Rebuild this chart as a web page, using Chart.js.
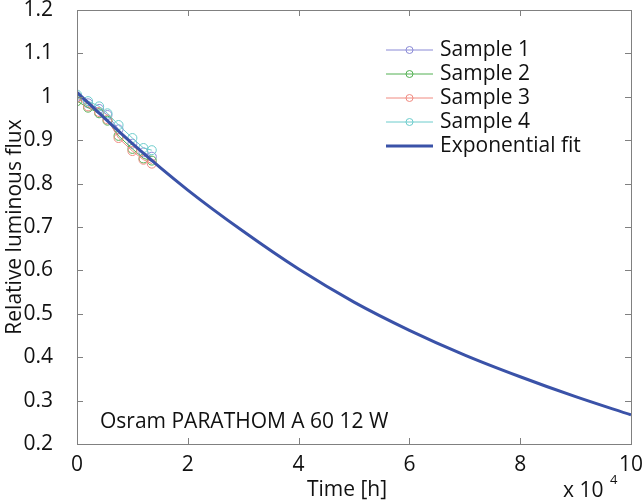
<!DOCTYPE html>
<html lang="en">
<head>
  <meta charset="UTF-8">
  <title>Relative luminous flux</title>
  <script src="https://cdn.jsdelivr.net/npm/chart.js"></script>
  <style>
    body { margin: 0; background: #fff; }
    #wrap { width: 642px; height: 504px; }
  </style>
</head>
<body>
<div id="wrap"><canvas id="flux" width="642" height="504"></canvas></div>
<script>
// time in units of 10^4 h
const sampleTimes = [0, 0.2, 0.4, 0.55, 0.75, 1.0, 1.2, 1.35];
const sample1 = [1.0, 0.985, 0.972, 0.958, 0.925, 0.892, 0.872, 0.862];
const sample2 = [0.99, 0.975, 0.962, 0.945, 0.91, 0.88, 0.858, 0.853];
const sample3 = [0.998, 0.978, 0.965, 0.948, 0.905, 0.875, 0.855, 0.846];
const sample4 = [1.005, 0.99, 0.978, 0.962, 0.935, 0.905, 0.882, 0.877];

const fitTimes = [0, 1, 2, 3, 4, 5, 6, 7, 8, 9, 10];
const fitValues = [1.01, 0.892, 0.785, 0.69, 0.603, 0.527, 0.462, 0.405, 0.355, 0.309, 0.267];

const xTicks = [0, 2, 4, 6, 8, 10];
const yTicks = [0.2, 0.3, 0.4, 0.5, 0.6, 0.7, 0.8, 0.9, 1.0, 1.1, 1.2];

const sampleNames = ['Sample 1', 'Sample 2', 'Sample 3', 'Sample 4'];
const sampleColors = ['#8a8ad6', '#52b052', '#f08a80', '#6ccccc'];
const fitColor = '#3a52a8';
const FONT = "'Open Sans', sans-serif";

const pts = (xs, ys) => xs.map((x, i) => ({ x, y: ys[i] }));

const sampleSet = (i, values) => ({
  label: sampleNames[i],
  data: pts(sampleTimes, values),
  showLine: true,
  borderColor: sampleColors[i],
  backgroundColor: 'rgba(0,0,0,0)',
  borderWidth: 1,
  pointRadius: 4.5,
  pointBorderWidth: 1,
  pointBorderColor: sampleColors[i],
  order: 4 - i
});

const frame = {
  id: 'frame',
  afterDraw(chart) {
    const { ctx, chartArea: a, scales: { x, y } } = chart;
    ctx.save();
    ctx.strokeStyle = '#808080';
    ctx.lineWidth = 1;
    ctx.strokeRect(a.left + 0.5, a.top + 0.5, a.right - a.left, a.bottom - a.top);
    ctx.beginPath();
    xTicks.forEach(v => {
      const px = Math.round(x.getPixelForValue(v)) + 0.5;
      ctx.moveTo(px, a.bottom); ctx.lineTo(px, a.bottom - 6);
      ctx.moveTo(px, a.top); ctx.lineTo(px, a.top + 6);
    });
    yTicks.forEach(v => {
      const py = Math.round(y.getPixelForValue(v)) + 0.5;
      ctx.moveTo(a.left, py); ctx.lineTo(a.left + 6, py);
      ctx.moveTo(a.right, py); ctx.lineTo(a.right - 6, py);
    });
    ctx.stroke();

    // texts
    ctx.fillStyle = '#111';
    ctx.textBaseline = 'middle';
    ctx.font = '21px ' + FONT;
    ctx.textAlign = 'left';
    ctx.fillText('Osram PARATHOM A 60 12 W', 100, 422);

    ctx.textAlign = 'center';
    ctx.fillText('Time [h]', 347, 490);
    ctx.textAlign = 'left';
    ctx.fillText('x 10', 563, 491);
    ctx.font = '13px ' + FONT;
    ctx.fillText('4', 610, 480);

    ctx.save();
    ctx.font = '21px ' + FONT;
    ctx.translate(15, (a.top + a.bottom) / 2);
    ctx.rotate(-Math.PI / 2);
    ctx.textAlign = 'center';
    ctx.fillText('Relative luminous flux', 0, 0);
    ctx.restore();

    // legend
    const rows = [50, 74, 98, 122, 146];
    ctx.font = '21px ' + FONT;
    ctx.textAlign = 'left';
    sampleNames.forEach((name, i) => {
      ctx.strokeStyle = sampleColors[i];
      ctx.lineWidth = 1;
      ctx.beginPath();
      ctx.moveTo(386, rows[i]); ctx.lineTo(433, rows[i]);
      ctx.stroke();
      ctx.beginPath();
      ctx.arc(409.5, rows[i], 3.5, 0, Math.PI * 2);
      ctx.stroke();
      ctx.fillStyle = '#111';
      ctx.fillText(name, 440, rows[i]);
    });
    ctx.strokeStyle = fitColor;
    ctx.lineWidth = 3;
    ctx.beginPath();
    ctx.moveTo(386, rows[4]); ctx.lineTo(433, rows[4]);
    ctx.stroke();
    ctx.fillText('Exponential fit', 440, rows[4]);
    ctx.restore();
  }
};

new Chart(document.getElementById('flux'), {
  type: 'scatter',
  data: {
    datasets: [
      {
        label: 'Exponential fit',
        data: pts(fitTimes, fitValues),
        showLine: true,
        borderColor: fitColor,
        borderWidth: 3,
        pointRadius: 0,
        cubicInterpolationMode: 'monotone',
        order: 0
      },
      sampleSet(0, sample1),
      sampleSet(1, sample2),
      sampleSet(2, sample3),
      sampleSet(3, sample4)
    ]
  },
  options: {
    responsive: false,
    animation: false,
    layout: { padding: { top: 10, right: 11, left: 0, bottom: 0 } },
    plugins: { legend: { display: false }, tooltip: { enabled: false } },
    scales: {
      x: {
        type: 'linear', min: 0, max: 10,
        afterFit: s => { s.height = 60; s.paddingLeft = 0; s.paddingRight = 0; },
        afterBuildTicks: s => { s.ticks = xTicks.map(v => ({ value: v })); },
        grid: { display: false },
        border: { display: false },
        ticks: { color: '#111', font: { family: FONT, size: 21 }, padding: 0, maxRotation: 0 }
      },
      y: {
        type: 'linear', min: 0.2, max: 1.2,
        afterFit: s => { s.width = 77; s.paddingTop = 0; s.paddingBottom = 0; },
        afterBuildTicks: s => { s.ticks = yTicks.map(v => ({ value: v })); },
        grid: { display: false },
        border: { display: false },
        ticks: {
          color: '#111', font: { family: FONT, size: 21 }, padding: 16,
          callback: v => String(Number(v.toFixed(1)))
        }
      }
    }
  },
  plugins: [frame]
});
</script>
</body>
</html>
